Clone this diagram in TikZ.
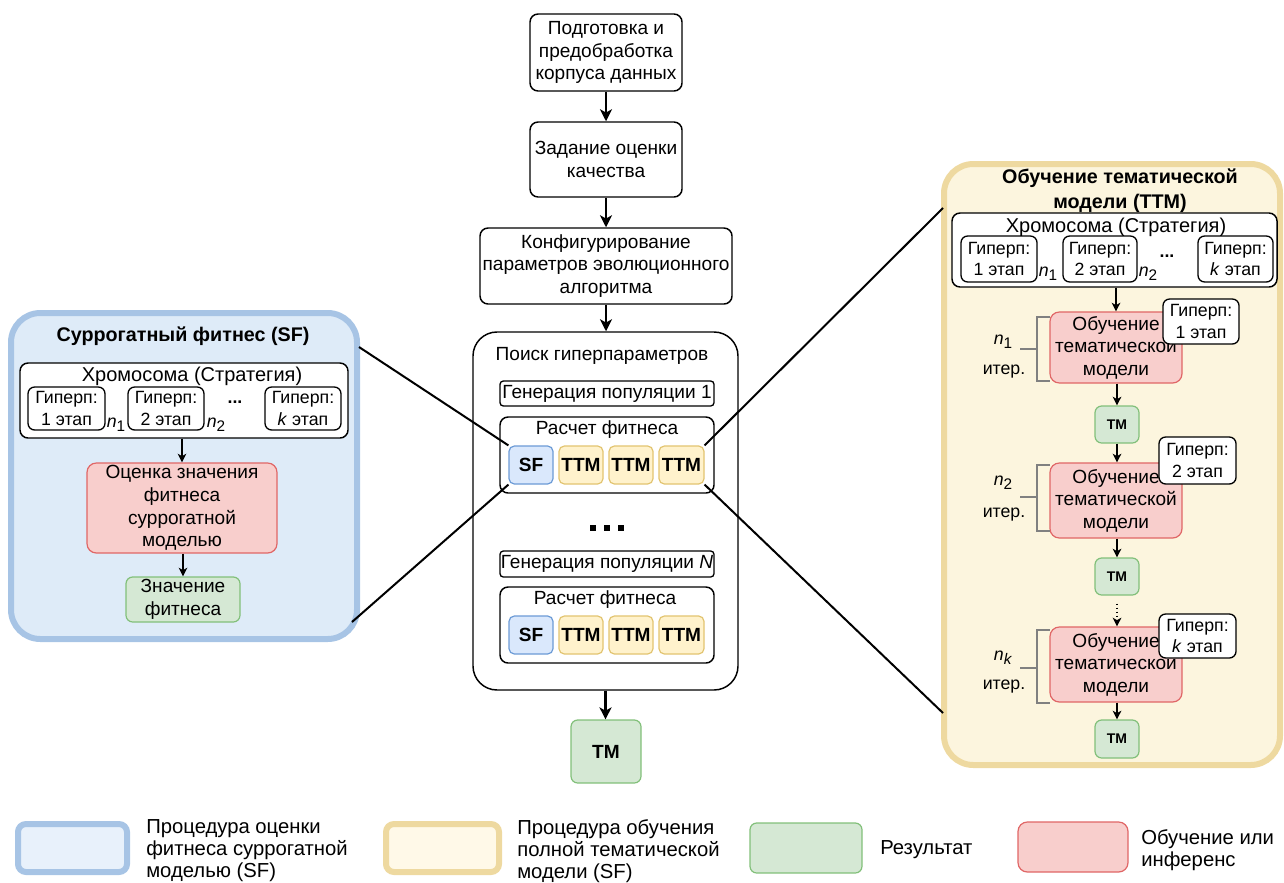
\documentclass[tikz,border=0pt]{standalone}
\usepackage{fontspec}
\setmainfont{Liberation Sans}
\usetikzlibrary{arrows.meta}
\definecolor{bpfill}{HTML}{DEEBF8}
\definecolor{bpdraw}{HTML}{A7C4E5}
\definecolor{sffill}{HTML}{DAE8FC}
\definecolor{sfdraw}{HTML}{6C9BD6}
\definecolor{ypfill}{HTML}{FCF5DE}
\definecolor{ypdraw}{HTML}{EED9A0}
\definecolor{ttfill}{HTML}{FFF2CC}
\definecolor{ttdraw}{HTML}{E2C470}
\definecolor{gfill}{HTML}{D5E8D4}
\definecolor{gdraw}{HTML}{82C07A}
\definecolor{rfill}{HTML}{F8CECC}
\definecolor{rdraw}{HTML}{E06666}
\definecolor{brgray}{HTML}{808080}
\definecolor{lbfill}{HTML}{E8F1FB}
\definecolor{lyfill}{HTML}{FFF9E8}
\newcommand\fmain{\fontsize{14.3}{16.9}\selectfont}
\newcommand\fchrom{\fontsize{15}{17}\selectfont}
\newcommand\fhyp{\fontsize{13.3}{16.2}\selectfont}
\newcommand\ftitle{\fontsize{14.8}{18.8}\selectfont\bfseries}
\newcommand\ftm{\fontsize{10.5}{12}\selectfont\bfseries}
\newcommand\fleg{\fontsize{15.2}{16.5}\selectfont}
\newcommand\nlab[1]{{\itshape n}\raisebox{-0.45ex}{\fontsize{11.5}{12}\selectfont #1}}
\newcommand\bx[7]{\node[#6, minimum width={(#4-(#2))*0.75pt}, minimum height={(#5-(#3))*0.75pt}] (#1) at ({(#2+#4)/2},{(#3+#5)/2}) {#7};}
\tikzset{
  base/.style={draw=black, line width=1.1pt, rounded corners=6pt, fill=white, align=center, inner sep=0pt, font=\fmain},
  hyp/.style={base, line width=1pt, rounded corners=5pt, font=\fhyp},
  gen/.style={base, line width=1pt, rounded corners=2.5pt},
  lpanel/.style={draw=bpdraw, fill=bpfill, line width=4.5pt, rounded corners=22pt, inner sep=0pt},
  rpanel/.style={draw=ypdraw, fill=ypfill, line width=4.5pt, rounded corners=22pt, inner sep=0pt},
  sfbox/.style={draw=sfdraw, fill=sffill, line width=0.9pt, rounded corners=4pt, font=\fmain\bfseries, inner sep=0pt},
  ttbox/.style={draw=ttdraw, fill=ttfill, line width=0.9pt, rounded corners=4pt, font=\fmain\bfseries, inner sep=0pt},
  gbox/.style={draw=gdraw, fill=gfill, line width=0.9pt, rounded corners=5pt, align=center, font=\fmain, inner sep=0pt},
  rbox/.style={draw=rdraw, fill=rfill, line width=0.9pt, rounded corners=7pt, align=center, font=\fmain, inner sep=0pt},
  arr/.style={line width=1.7pt, -{Stealth[length=9pt,width=9pt,inset=2.5pt]}},
  sarr/.style={line width=1pt, -{Stealth[length=6.5pt,width=6.5pt,inset=1.8pt]}},
  conn/.style={line width=1.5pt},
  brk/.style={draw=brgray, line width=2pt},
  lab/.style={inner sep=0pt, font=\fmain, align=center},
  leg/.style={inner sep=0pt, font=\fleg, align=left, anchor=west},
}
\begin{document}
\begin{tikzpicture}[x=0.75pt,y=-0.75pt]
\useasboundingbox (0,0) rectangle (1284,882);
% ---------- left panel ----------
\bx{lpan}{11}{313}{357}{639}{lpanel}{}
\node[lab, font=\ftitle] (ltitle) at (183,336) {Суррогатный фитнес (SF)};
\bx{lchrom}{20}{363}{348}{438}{base}{}
\node[lab, font=\fchrom] (lchromt) at (192,376) {Хромосома (Стратегия)};
\bx{lh1}{28}{387}{105}{430}{hyp}{Гиперп:\\1 этап}
\bx{lh2}{128}{387}{204}{430}{hyp}{Гиперп:\\2 этап}
\bx{lhk}{265}{387}{341}{430}{hyp}{Гиперп:\\\textit{k} этап}
\node[lab, font=\fhyp] (ln1) at (116,425) {\nlab{1}};
\node[lab, font=\fhyp] (ln2) at (216,425) {\nlab{2}};
\node[lab, font=\fhyp\bfseries] (ldots) at (235,402) {...};
\bx{lred}{87}{463}{277}{553}{rbox}{Оценка значения\\фитнеса\\суррогатной\\моделью}
\bx{lgreen}{126}{577}{240}{622}{gbox}{Значение\\фитнеса}
\draw[sarr] (lred.north |- lchrom.south) -- (lred.north);
\draw[sarr] (lred.south -| lgreen.north) -- (lgreen.north);
% ---------- right panel ----------
\bx{rpan}{944}{164}{1280}{765}{rpanel}{}
\node[lab, font=\ftitle] (rtitle) at (1120,191) {Обучение тематической\\модели (ТТМ)};
\bx{rchrom}{952}{213}{1277}{287}{base}{}
\node[lab, font=\fchrom] (rchromt) at (1116,227) {Хромосома (Стратегия)};
\bx{rh1}{961}{236}{1037}{282}{hyp}{Гиперп:\\1 этап}
\bx{rh2}{1063}{236}{1137}{282}{hyp}{Гиперп:\\2 этап}
\bx{rhk}{1198}{236}{1273}{282}{hyp}{Гиперп:\\\textit{k} этап}
\node[lab, font=\fhyp] (rn1) at (1048,274) {\nlab{1}};
\node[lab, font=\fhyp] (rn2) at (1148,274) {\nlab{2}};
\node[lab, font=\fhyp\bfseries] (rdots) at (1167,256) {...};
% stage 1
\bx{r1}{1050}{312}{1182}{383}{rbox}{Обучение\\тематической\\модели}
\bx{rp1}{1163}{299}{1239}{344}{hyp}{Гиперп:\\1 этап}
\bx{tm1}{1095}{406}{1139}{443}{gbox, font=\ftm}{ТМ}
\draw[brk] (1050,317) -- (1037,317) -- (1037,381) -- (1050,381);
\draw[brk] (1020,349) -- (1037,349);
\node[lab, font=\fhyp] (rl1) at (1003,342) {\nlab{1}};
\node[lab, font=\fhyp] (ri1) at (1004,372) {итер.};
% stage 2
\bx{r2}{1050}{463}{1182}{538}{rbox}{Обучение\\тематической\\модели}
\bx{rp2}{1159}{437}{1236}{484}{hyp}{Гиперп:\\2 этап}
\bx{tm2}{1095}{558}{1139}{595}{gbox, font=\ftm}{ТМ}
\draw[brk] (1050,465) -- (1037,465) -- (1037,531) -- (1050,531);
\draw[brk] (1020,497) -- (1037,497);
\node[lab, font=\fhyp] (rl2) at (1003,483) {\nlab{2}};
\node[lab, font=\fhyp] (ri2) at (1004,515) {итер.};
% stage k
\bx{rk}{1050}{627}{1182}{702}{rbox}{Обучение\\тематической\\модели}
\bx{rpk}{1159}{614}{1236}{658}{hyp}{Гиперп:\\\textit{k} этап}
\bx{tm3}{1095}{720}{1139}{758}{gbox, font=\ftm}{ТМ}
\draw[brk] (1050,630) -- (1037,630) -- (1037,703) -- (1050,703);
\draw[brk] (1020,668) -- (1037,668);
\node[lab, font=\fhyp] (rlk) at (1003,658) {\nlab{\textit{k}}};
\node[lab, font=\fhyp] (rik) at (1004,687) {итер.};
\draw[sarr] (r1.north |- rchrom.south) -- (r1.north);
\draw[sarr] (r1.south -| tm1.north) -- (tm1.north);
\draw[sarr] (tm1.south) -- (tm1.south |- r2.north);
\draw[sarr] (r2.south -| tm2.north) -- (tm2.north);
\draw[sarr, dotted, line width=1.5pt, shorten <=6pt] (tm2.south) -- (tm2.south |- rk.north);
\draw[sarr] (rk.south -| tm3.north) -- (tm3.north);
% ---------- centre ----------
\bx{b1}{530}{14}{682}{91}{base}{Подготовка и\\предобработка\\корпуса данных}
\bx{b2}{530}{122}{682}{197}{base}{Задание оценки\\качества}
\bx{b3}{480}{228}{732}{304}{base}{Конфигурирование\\параметров эволюционного\\алгоритма}
\bx{search}{473}{332}{738}{690}{base, rounded corners=18pt}{}
\node[lab] (searcht) at (602,356) {Поиск гиперпараметров};
\bx{g1}{500}{381}{714}{406}{gen}{Генерация популяции 1}
\bx{f1}{500}{417}{714}{493}{base}{}
\node[lab] (f1t) at (607,430) {Расчет фитнеса};
\bx{sf1}{509}{446}{553}{484}{sfbox}{SF}
\bx{tta}{559}{446}{603}{484}{ttbox}{ТТМ}
\bx{ttb}{609}{446}{653}{484}{ttbox}{ТТМ}
\bx{ttc}{659}{446}{704}{484}{ttbox}{ТТМ}
\fill (590,525) rectangle (596,531);
\fill (604,525) rectangle (610,531);
\fill (618,525) rectangle (624,531);
\bx{gN}{500}{551}{714}{577}{gen}{Генерация популяции \textit{N}}
\bx{f2}{500}{587}{714}{663}{base}{}
\node[lab] (f2t) at (605,600) {Расчет фитнеса};
\bx{sf2}{509}{616}{553}{654}{sfbox}{SF}
\bx{ttd}{559}{616}{603}{654}{ttbox}{ТТМ}
\bx{tte}{609}{616}{653}{654}{ttbox}{ТТМ}
\bx{ttf}{659}{616}{704}{654}{ttbox}{ТТМ}
\bx{tm}{571}{720}{641}{783}{gbox, font=\fmain\bfseries}{ТМ}
\draw[arr] (b1.south) -- (b2.north);
\draw[arr] (b2.south) -- (b2.south |- b3.north);
\draw[arr] (b3.south) -- (b3.south |- search.north);
\draw[arr] (search.south) -- (search.south |- tm.north);
% ---------- connectors ----------
\coordinate (lc1) at (359,347);
\coordinate (lc2) at (352,622);
\coordinate (rc1) at (943,208);
\coordinate (rc2) at (943,713);
\draw[conn] (lc1) -- (sf1.north west);
\draw[conn] (lc2) -- (sf1.south west);
\draw[conn] (ttc.north east) -- (rc1);
\draw[conn] (ttc.south east) -- (rc2);
% ---------- legend ----------
\bx{lgb}{18}{824}{127}{872}{draw=bpdraw, fill=lbfill, line width=4.5pt, rounded corners=6pt}{}
\node[leg] (lgbt) at (146,851) {Процедура оценки\\фитнеса суррогатной\\моделью (SF)};
\bx{lgy}{386}{824}{499}{872}{draw=ypdraw, fill=lyfill, line width=4.5pt, rounded corners=6pt}{}
\node[leg] (lgyt) at (517,851) {Процедура обучения\\полной тематической\\модели (SF)};
\bx{lgg}{750}{823}{862}{873}{gbox}{}
\node[leg] (lggt) at (880,850) {Результат};
\bx{lgr}{1018}{822}{1128}{872}{rbox}{}
\node[leg] (lgrt) at (1141,850) {Обучение или\\инференс};
\end{tikzpicture}
\end{document}
